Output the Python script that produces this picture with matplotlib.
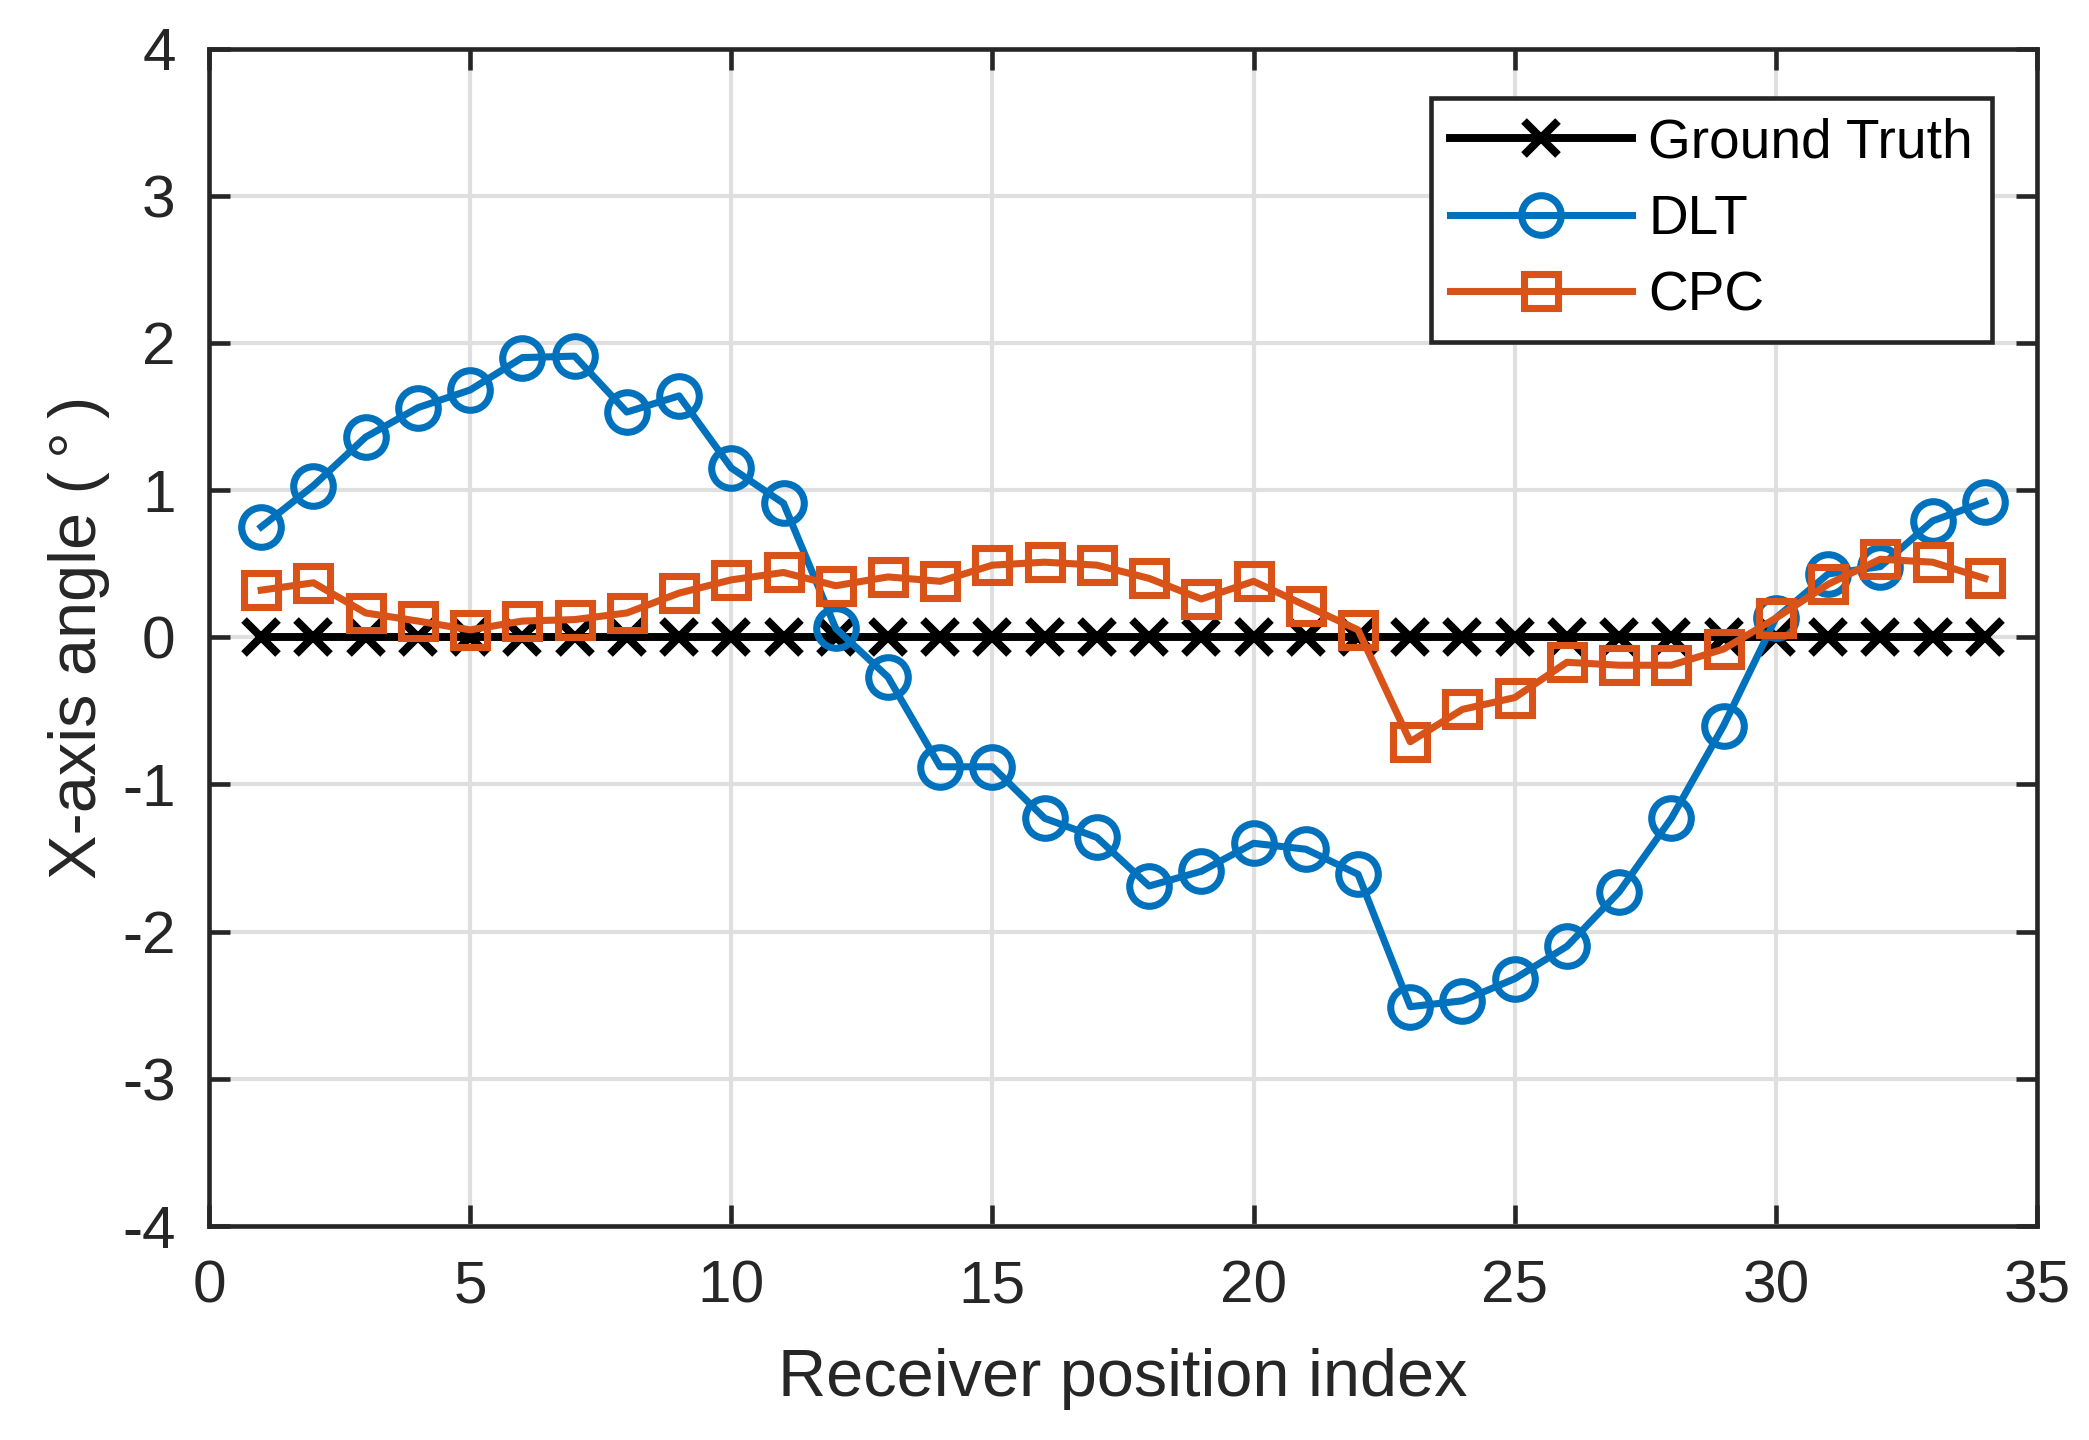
import numpy as np
import matplotlib.pyplot as plt

## data
idx = np.arange(1, 35)
ground_truth = [0.0] * 34
dlt = [0.75, 1.03, 1.36, 1.56, 1.68, 1.90, 1.91, 1.53, 1.64, 1.15,
       0.91, 0.06, -0.27, -0.88, -0.88, -1.23, -1.36, -1.69, -1.59, -1.40,
       -1.44, -1.61, -2.51, -2.47, -2.32, -2.10, -1.73, -1.23, -0.60, 0.13,
       0.43, 0.48, 0.79, 0.92]
cpc = [0.32, 0.37, 0.165, 0.11, 0.05, 0.11, 0.12, 0.165, 0.30, 0.39,
       0.44, 0.35, 0.41, 0.38, 0.49, 0.51, 0.49, 0.40, 0.26, 0.38,
       0.215, 0.05, -0.71, -0.49, -0.41, -0.17, -0.19, -0.19, -0.08, 0.13,
       0.36, 0.53, 0.51, 0.40]
x_ticks = [0, 5, 10, 15, 20, 25, 30, 35]
y_ticks = [-4, -3, -2, -1, 0, 1, 2, 3, 4]

plt.rcParams['font.family'] = ['Liberation Sans', 'DejaVu Sans']
plt.rcParams['axes.unicode_minus'] = False

fig = plt.figure(figsize=(2089 / 300, 1440 / 300), dpi=300)
ax = fig.add_axes([209 / 2089, 1 - 1226 / 1440, (2037 - 209) / 2089, (1226 - 48.5) / 1440])

lw = 1.7
ax.plot(idx, ground_truth, color='black', marker='x', markersize=8,
        markeredgewidth=1.9, linewidth=1.9, label='Ground Truth')
ax.plot(idx, dlt, color='#0072BD', marker='o', markersize=9.5,
        markerfacecolor='none', markeredgewidth=lw, linewidth=lw, label='DLT')
ax.plot(idx, cpc, color='#D95319', marker='s', markersize=8,
        markerfacecolor='none', markeredgewidth=lw, linewidth=lw, label='CPC')

ax.set_xlim(0, 35)
ax.set_ylim(-4, 4)
ax.set_xticks(x_ticks)
ax.set_yticks(y_ticks)
ax.grid(True, color='#DFDFDF', linewidth=1.0)
ax.set_axisbelow(True)

for s in ax.spines.values():
    s.set_color('#262626')
    s.set_linewidth(1.1)
ax.tick_params(direction='in', length=5, width=1.1, colors='#262626',
               top=True, right=True, labelsize=14.5, pad=8)

ax.set_xlabel('Receiver position index', fontsize=16, color='#262626', labelpad=8)
ax.set_ylabel('X-axis angle (\u2009°\u2009)', fontsize=16, color='#262626', labelpad=3)

leg = ax.legend(loc='upper right', bbox_to_anchor=(0.9755, 0.958), borderaxespad=0,
                fancybox=False, edgecolor='#262626', fontsize=13.2, handlelength=3.3,
                handletextpad=0.3, framealpha=1, labelspacing=0.45, borderpad=0.35)
leg.get_frame().set_linewidth(1.1)

fig.savefig('out.png', dpi=300)
